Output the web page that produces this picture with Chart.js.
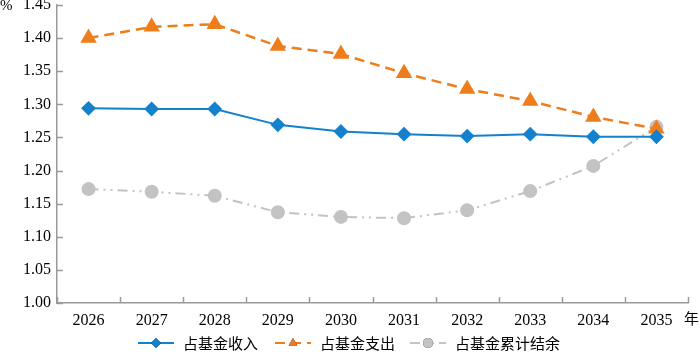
<!DOCTYPE html>
<html>
<head>
<meta charset="utf-8">
<style>
  body { margin: 0; background: #fff; }
</style>
</head>
<body>
<script src="https://cdn.jsdelivr.net/npm/chart.js"></script>
<canvas id="myChart" width="700" height="352"></canvas>

<script>
const years = ['2026', '2027', '2028', '2029', '2030', '2031', '2032', '2033', '2034', '2035'];
const income = [1.294, 1.293, 1.293, 1.269, 1.259, 1.255, 1.252, 1.255, 1.251, 1.251];
const expense = [1.400, 1.417, 1.421, 1.388, 1.376, 1.347, 1.323, 1.305, 1.281, 1.263];
const balance = [1.172, 1.168, 1.162, 1.137, 1.130, 1.128, 1.140, 1.169, 1.207, 1.266];
const seriesNames = ['占基金收入', '占基金支出', '占基金累计结余'];

const axisColor = '#9a9a9a';
const serif = '"Liberation Serif", "Times New Roman", serif';
const cjk = '"Noto Sans CJK SC", sans-serif';

// inward tick marks, unit labels and the legend
const extras = {
  id: 'extras',
  afterDraw(chart) {
    const ctx = chart.ctx;
    const x = chart.scales.x, y = chart.scales.y;
    const area = chart.chartArea;
    ctx.save();
    ctx.strokeStyle = axisColor;
    ctx.lineWidth = 1.5;
    ctx.beginPath();
    y.ticks.forEach(function(t) {
      const py = Math.round(y.getPixelForValue(t.value)) + 0.5;
      ctx.moveTo(area.left, py);
      ctx.lineTo(area.left + 6, py);
    });
    const step = x.getPixelForValue(1) - x.getPixelForValue(0);
    for (let i = 0; i <= years.length; i++) {
      const px = Math.round(x.getPixelForValue(i) - step / 2) + 0.5;
      ctx.moveTo(px, area.bottom);
      ctx.lineTo(px, area.bottom - 6);
    }
    ctx.stroke();

    ctx.fillStyle = '#000';
    ctx.font = '15px ' + serif;
    ctx.textBaseline = 'middle';
    ctx.textAlign = 'left';
    ctx.fillText('%', 0, 6);
    ctx.font = '15px ' + cjk;
    ctx.fillText('年', 684, 318);

    // legend
    const ds = chart.data.datasets;
    const starts = [138, 275, 410];
    const ly = 343;
    ds.forEach(function(d, i) {
      const x0 = starts[i];
      ctx.strokeStyle = d.borderColor;
      ctx.lineWidth = 2;
      ctx.setLineDash(d.borderDash || []);
      ctx.beginPath();
      ctx.moveTo(x0, ly);
      ctx.lineTo(x0 + 36, ly);
      ctx.stroke();
      ctx.setLineDash([]);
      Chart.helpers.drawPoint(ctx, {
        pointStyle: d.pointStyle,
        radius: 5,
        borderWidth: 0
      }, x0 + 18, ly);
      ctx.fillStyle = d.pointBackgroundColor;
      ctx.fill();
      ctx.fillStyle = '#000';
      ctx.font = '15px ' + cjk;
      ctx.fillText(seriesNames[i], x0 + 45, ly);
    });
    ctx.restore();
  }
};

const data = {
  labels: years,
  datasets: [{
    label: seriesNames[0],
    data: income,
    borderColor: '#1381CD',
    backgroundColor: '#1381CD',
    pointBackgroundColor: '#1381CD',
    pointStyle: 'rectRot',
    pointRadius: 6,
    borderWidth: 2
  }, {
    label: seriesNames[1],
    data: expense,
    borderColor: '#EE7D1B',
    backgroundColor: '#EE7D1B',
    pointBackgroundColor: '#EE7D1B',
    borderDash: [10, 6],
    pointStyle: 'triangle',
    pointRadius: 7,
    borderWidth: 2.5
  }, {
    label: seriesNames[2],
    data: balance,
    borderColor: '#C3C3C3',
    backgroundColor: '#C3C3C3',
    pointBackgroundColor: '#C3C3C3',
    borderDash: [10, 5, 2, 5, 2, 5],
    pointStyle: 'circle',
    pointRadius: 6,
    borderWidth: 2
  }]
};

const config = {
  type: 'line',
  data: data,
  plugins: [extras],
  options: {
    responsive: false,
    animation: false,
    layout: { autoPadding: false, padding: { top: 5, right: 12, left: 0, bottom: 0 } },
    elements: { point: { borderWidth: 0, hoverRadius: 7 } },
    plugins: {
      legend: { display: false },
      tooltip: { enabled: false }
    },
    scales: {
      x: {
        offset: true,
        grid: { display: false, drawTicks: false },
        border: { color: axisColor, width: 1.5 },
        ticks: { color: '#000', font: { family: serif, size: 16 }, padding: 8, maxRotation: 0 },
        afterFit: function(s) { s.height = 49; }
      },
      y: {
        min: 1.0,
        max: 1.45,
        grid: { display: false, drawTicks: false },
        border: { color: axisColor, width: 1.5 },
        ticks: {
          stepSize: 0.05,
          color: '#000',
          font: { family: serif, size: 16 },
          padding: 6,
          callback: function(v) { return v.toFixed(2); }
        },
        afterFit: function(s) { s.width = 57; s.paddingTop = 0; s.paddingBottom = 0; }
      }
    }
  }
};

const myChart = new Chart(document.getElementById('myChart'), config);
</script>
</body>
</html>
